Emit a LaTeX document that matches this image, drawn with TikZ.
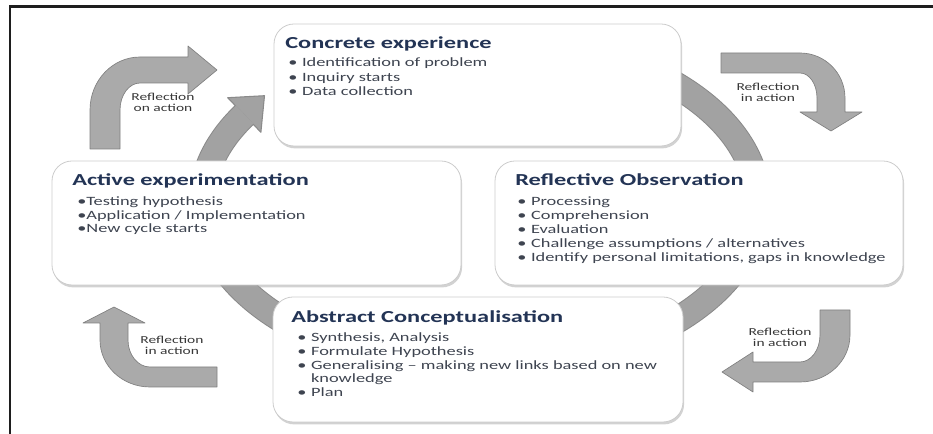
\documentclass[tikz,border=0pt]{standalone}
\usepackage{fontspec}
\setmainfont{Carlito}[FakeStretch=1.45]
\usetikzlibrary{shadows}
\definecolor{titlecol}{RGB}{35,52,85}
\definecolor{bodycol}{RGB}{62,68,80}
\definecolor{lblcol}{RGB}{55,55,55}
\definecolor{ringedge}{RGB}{138,138,138}
\definecolor{ringfill}{RGB}{162,162,162}
\definecolor{arrowfill}{RGB}{170,170,170}
\definecolor{arrowedge}{RGB}{128,128,128}
\definecolor{framecol}{RGB}{30,30,30}
\begin{document}
\begin{tikzpicture}[x=0.75pt,y=-0.75pt,
  box/.style={draw=gray!40, line width=0.6pt, fill=white, rounded corners=15pt,
    inner sep=0pt, outer sep=0pt,
    drop shadow={shadow xshift=0.8pt, shadow yshift=-1.8pt, opacity=0.5, fill=gray!70}},
  ttl/.style={inner sep=0pt, anchor=base west, text=titlecol,
    font=\fontsize{12.6}{14}\selectfont\bfseries},
  bodytxt/.style={inner sep=0pt, anchor=base west, text=bodycol,
    font=\fontsize{9.5}{11}\selectfont},
  lbl/.style={inner sep=0pt, align=center, text=lblcol,
    font=\fontsize{8}{8.3}\selectfont},
  bent/.style={fill=arrowfill, draw=arrowedge, line width=0.5pt, line join=round},
  ringband/.style={line width=#1, line cap=butt}
]
\useasboundingbox (0,0) rectangle (933,434);

% frame (top and left edges)
\draw[framecol, line width=2.25pt] (9,6.5) -- (933,6.5);
\draw[framecol, line width=1.5pt] (10,6) -- (10,434);

% cycle ring
\draw[ringband=20.25pt, ringedge] plot[domain=-75:212, samples=120, smooth]
  ({480+278*cos(\x)},{203+166*sin(\x)});
\filldraw[fill=ringfill, draw=ringedge, line width=0.8pt, line join=round]
  (227.7,97.7) -- (264.5,95.7) -- (260.9,132.3) -- cycle;
\draw[ringband=18.75pt, ringfill] plot[domain=-74:212.2, samples=120, smooth]
  ({480+278*cos(\x)},{203+166*sin(\x)});

% boxes
\node[box, minimum width=305.25pt, minimum height=91.5pt] (ce) at (477.5,85) {};
\node[box, minimum width=306.75pt, minimum height=93pt] (ae) at (256.5,223) {};
\node[box, minimum width=306pt, minimum height=93pt] (ro) at (699,223) {};
\node[box, minimum width=307.5pt, minimum height=93.75pt] (ac) at (478,359.5) {};

% Concrete experience
\node[ttl] (ceT) at (285,48.5) {Concrete experience};
\node[bodytxt] (ce1) at (288,67) {\textbullet\hspace{3.5pt}Identification of problem};
\node[bodytxt] (ce2) at (288,81.5) {\textbullet\hspace{3.5pt}Inquiry starts};
\node[bodytxt] (ce3) at (288,96) {\textbullet\hspace{3.5pt}Data collection};

% Active experimentation
\node[ttl] (aeT) at (72,185.5) {Active experimentation};
\node[bodytxt] (ae1) at (77,206) {\textbullet Testing hypothesis};
\node[bodytxt] (ae2) at (77,219.5) {\textbullet Application / Implementation};
\node[bodytxt] (ae3) at (77,233) {\textbullet New cycle starts};

% Reflective Observation
\node[ttl] (roT) at (515,185.5) {Reflective Observation};
\node[bodytxt] (ro1) at (517,206) {\textbullet\hspace{3.5pt}Processing};
\node[bodytxt] (ro2) at (517,220) {\textbullet\hspace{3.5pt}Comprehension};
\node[bodytxt] (ro3) at (517,234) {\textbullet\hspace{3.5pt}Evaluation};
\node[bodytxt] (ro4) at (517,248) {\textbullet\hspace{3.5pt}Challenge assumptions / alternatives};
\node[bodytxt] (ro5) at (517,262) {\textbullet\hspace{3.5pt}Identify personal limitations, gaps in knowledge};

% Abstract Conceptualisation
\node[ttl] (acT) at (291,322.5) {Abstract Conceptualisation};
\node[bodytxt] (ac1) at (297,342) {\textbullet\hspace{3.5pt}Synthesis, Analysis};
\node[bodytxt] (ac2) at (297,356) {\textbullet\hspace{3.5pt}Formulate Hypothesis};
\node[bodytxt] (ac3) at (297,370) {\textbullet\hspace{3.5pt}Generalising -- making new links based on new};
\node[bodytxt] (ac4) at (297,383) {\phantom{\textbullet}\hspace{3.5pt}knowledge};
\node[bodytxt] (ac5) at (297,397) {\textbullet\hspace{3.5pt}Plan};

% bent arrows
\path[bent] (90,149) -- (90,110) .. controls (90,80.7) and (112.4,57) .. (140,57)
  -- (188,57) -- (188,46) -- (217,70) -- (188,94) -- (188,83) -- (140,83)
  .. controls (129,83) and (120,95.1) .. (120,110) -- (120,149) -- cycle;
\path[bent] (721,53) -- (800,53) .. controls (824.9,53) and (845,73.1) .. (845,98)
  -- (845,112) -- (862,112) -- (831,131) -- (800,112) -- (817,112) -- (817,98)
  .. controls (817,84.2) and (809.4,73) .. (800,73) -- (721,73) -- cycle;
\path[bent] (114,307) -- (145,323) -- (128,323) -- (128,340)
  .. controls (128,354.9) and (137.8,367) .. (150,367) -- (217,367) -- (217,387)
  -- (150,387) .. controls (122.4,387) and (100,366) .. (100,340) -- (100,323)
  -- (83,323) -- cycle;
\path[bent] (820,310) -- (850,310) -- (850,335) .. controls (850,361) and (827.6,382) .. (800,382)
  -- (753,382) -- (753,392) -- (722,372) -- (753,352) -- (753,362) -- (800,362)
  .. controls (811,362) and (820,349.9) .. (820,335) -- cycle;

% reflection labels
\node[lbl] (l1) at (163,102) {Reflection\\on action};
\node[lbl] (l2) at (768,92.5) {Reflection\\in action};
\node[lbl] (l3) at (172,345.5) {Reflection\\in action};
\node[lbl] (l4) at (780,337.5) {Reflection\\in action};
\end{tikzpicture}
\end{document}
